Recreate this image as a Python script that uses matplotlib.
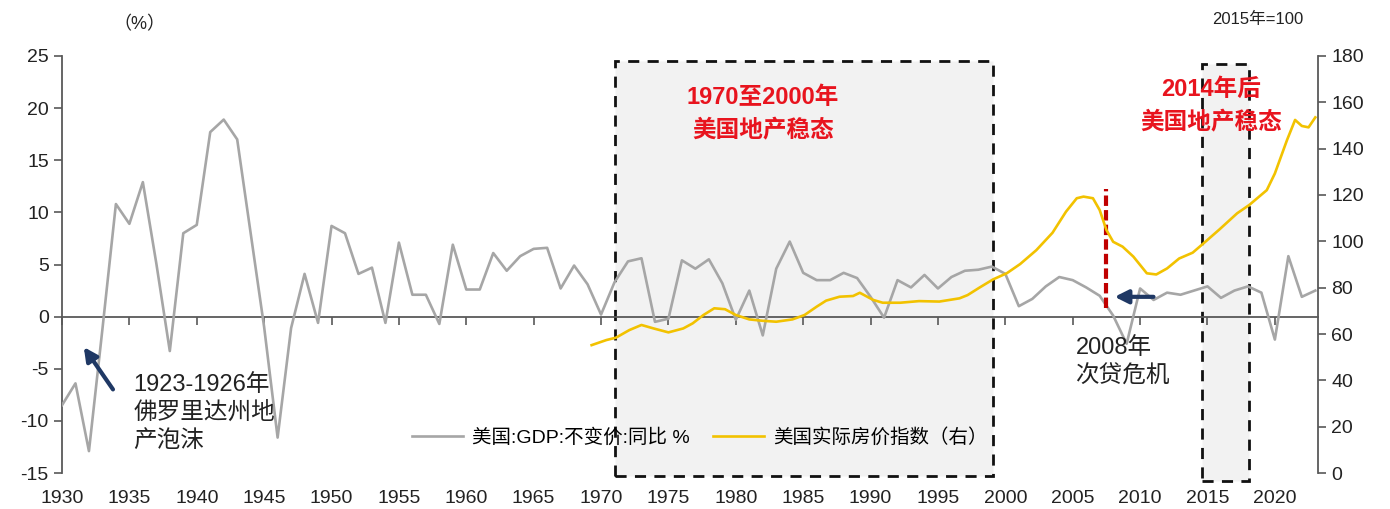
import matplotlib.pyplot as plt
from matplotlib.patches import Rectangle
from matplotlib.transforms import blended_transform_factory

plt.rcParams['font.family'] = ['Liberation Sans', 'Noto Sans CJK SC', 'DejaVu Sans']
plt.rcParams['axes.unicode_minus'] = False

# 美国 GDP 不变价同比 (%)
gdp_years = list(range(1930, 2024))
gdp_yoy = [-8.5, -6.4, -12.9, -1.2, 10.8, 8.9, 12.9, 5.1, -3.3, 8.0,
           8.8, 17.7, 18.9, 17.0, 8.0, -1.0, -11.6, -1.1, 4.1, -0.6,
           8.7, 8.0, 4.1, 4.7, -0.6, 7.1, 2.1, 2.1, -0.7, 6.9,
           2.6, 2.6, 6.1, 4.4, 5.8, 6.5, 6.6, 2.7, 4.9, 3.1,
           0.2, 3.3, 5.3, 5.6, -0.5, -0.2, 5.4, 4.6, 5.5, 3.2,
           -0.3, 2.5, -1.8, 4.6, 7.2, 4.2, 3.5, 3.5, 4.2, 3.7,
           1.9, -0.1, 3.5, 2.8, 4.0, 2.7, 3.8, 4.4, 4.5, 4.8,
           4.1, 1.0, 1.7, 2.9, 3.8, 3.5, 2.8, 2.0, 0.1, -2.6,
           2.7, 1.6, 2.3, 2.1, 2.5, 2.9, 1.8, 2.5, 2.9, 2.3,
           -2.2, 5.8, 1.9, 2.5]

# 美国实际房价指数 (2015年=100)
hpi_years = [1969.3, 1970.4, 1971.1, 1972.1, 1973.0, 1973.9, 1975.0, 1976.1, 1976.8, 1977.6,
             1978.4, 1979.2, 1980.0, 1981.0, 1982.0, 1983.0, 1984.2, 1985.1, 1986.0, 1986.7,
             1987.7, 1988.7, 1989.2, 1990.2, 1990.9, 1992.2, 1993.6, 1995.1, 1996.6, 1997.2,
             1998.1, 1999.1, 2000.1, 2001.1, 2002.3, 2003.5, 2004.5, 2005.3, 2005.8, 2006.5,
             2007.0, 2007.5, 2008.0, 2008.7, 2009.5, 2010.5, 2011.2, 2012.0, 2012.9, 2013.9,
             2014.7, 2015.9, 2017.2, 2018.1, 2019.4, 2020.0, 2020.9, 2021.5, 2022.0, 2022.5,
             2023.0]
hpi_values = [55.2, 57.4, 58.4, 61.7, 63.9, 62.4, 60.7, 62.4, 64.6, 68.2,
              71.1, 70.7, 68.2, 66.3, 65.7, 65.3, 66.3, 68.2, 71.8, 74.4,
              76.1, 76.4, 77.8, 74.7, 73.5, 73.5, 74.2, 74.0, 75.4, 76.8,
              80.1, 83.6, 86.2, 90.2, 96.2, 103.7, 112.8, 118.6, 119.3, 118.6,
              113.5, 104.9, 99.8, 97.7, 93.4, 86.2, 85.7, 88.3, 92.6, 95.1,
              99.1, 105.2, 112.1, 115.7, 122.1, 129.3, 143.7, 152.4, 149.8, 149.2,
              153.5]

tick_years = list(range(1930, 2021, 5))
left_ticks = [-15, -10, -5, 0, 5, 10, 15, 20, 25]
right_ticks = list(range(0, 181, 20))

gray = '#A6A6A6'
yellow = '#F2C200'
red = '#E8141E'
navy = '#1F3864'
spine = '#595959'

fig = plt.figure(figsize=(13.9, 5.09), dpi=100)
ax = fig.add_axes([0.0446, 0.0707, 0.9036, 0.8193])
ax2 = ax.twinx()

# 稳态区间框
ax.add_patch(Rectangle((1971.0, -15.3), 28.1, 39.8, facecolor='#F2F2F2', edgecolor='#111111',
                       lw=2, ls=(0, (4, 3)), zorder=0, clip_on=False))
ax.add_patch(Rectangle((2014.6, -15.8), 3.5, 40.0, facecolor='#F2F2F2', edgecolor='#111111',
                       lw=2, ls=(0, (4, 3)), zorder=0, clip_on=False))

l1, = ax.plot(gdp_years, gdp_yoy, color=gray, lw=1.9, zorder=3, label='美国:GDP:不变价:同比 %')
l2, = ax2.plot(hpi_years, hpi_values, color=yellow, lw=1.9, zorder=3, label='美国实际房价指数（右）')

ax.set_xlim(1930, 2023.2)
ax.set_ylim(-15, 25)
ax2.set_ylim(0, 180)
ax.set_yticks(left_ticks)
ax2.set_yticks(right_ticks)

# x 轴在 0 处，标签放在底部
ax.spines['bottom'].set_position(('data', 0))
ax.spines['top'].set_visible(False)
ax2.spines['top'].set_visible(False)
ax2.spines['bottom'].set_visible(False)
for s in ['left', 'bottom']:
    ax.spines[s].set_color(spine)
    ax.spines[s].set_linewidth(1.3)
ax2.spines['right'].set_color(spine)
ax2.spines['right'].set_linewidth(1.3)
ax2.spines['left'].set_visible(False)
ax.spines['right'].set_visible(False)
ax.set_xticks(tick_years)
ax.tick_params(axis='x', direction='out', length=6, width=1.2, color=spine, labelbottom=False)
ax.tick_params(axis='y', direction='out', length=6, width=1.2, color=spine, labelsize=14, labelcolor='#222222')
ax2.tick_params(axis='y', direction='out', length=6, width=1.2, color=spine, labelsize=14, labelcolor='#222222')

trans = blended_transform_factory(ax.transData, ax.transAxes)
for yr in tick_years:
    ax.text(yr, -0.06, str(yr), transform=trans, ha='center', va='center', fontsize=14, color='#222222')

# 2008 标记
ax.plot([2007.45, 2007.45], [0.8, 12.2], color='#C00000', lw=3, ls=(0, (2.5, 1)), zorder=4)
ax.annotate('', xy=(2007.9, 1.9), xytext=(2011.2, 1.9),
            arrowprops=dict(arrowstyle='-|>,head_width=0.4,head_length=0.8', color=navy, lw=3), zorder=5)
ax.annotate('', xy=(1931.5, -2.7), xytext=(1933.9, -7.2),
            arrowprops=dict(arrowstyle='-|>,head_width=0.4,head_length=0.8', color=navy, lw=3), zorder=5)

ax.text(1935.3, -5.5, '1923-1926年\n佛罗里达州地\n产泡沫', fontsize=17, color='#222222',
        va='top', ha='left', linespacing=1.35, zorder=6)
ax.text(2005.2, -2.0, '2008年\n次贷危机', fontsize=17, color='#222222',
        va='top', ha='left', linespacing=1.35, zorder=6)

ax.text(1982.0, 19.4, '1970至2000年\n美国地产稳态', fontsize=17, color=red, fontweight='bold',
        ha='center', va='center', linespacing=1.6, zorder=6)
ax.text(2015.3, 20.2, '2014年后\n美国地产稳态', fontsize=17, color=red, fontweight='bold',
        ha='center', va='center', linespacing=1.6, zorder=6)

fig.text(0.1, 0.952, '（%）', fontsize=13, color='#222222', ha='center', va='center')
fig.text(0.905, 0.962, '2015年=100', fontsize=12, color='#222222', ha='center', va='center')

leg = ax2.legend(handles=[l1, l2], loc='center', bbox_to_anchor=(0.508, 0.086), ncol=2,
                 frameon=False, fontsize=14, handlelength=2.6, columnspacing=1.2, handletextpad=0.5)

fig.savefig('out.png', dpi=100)
